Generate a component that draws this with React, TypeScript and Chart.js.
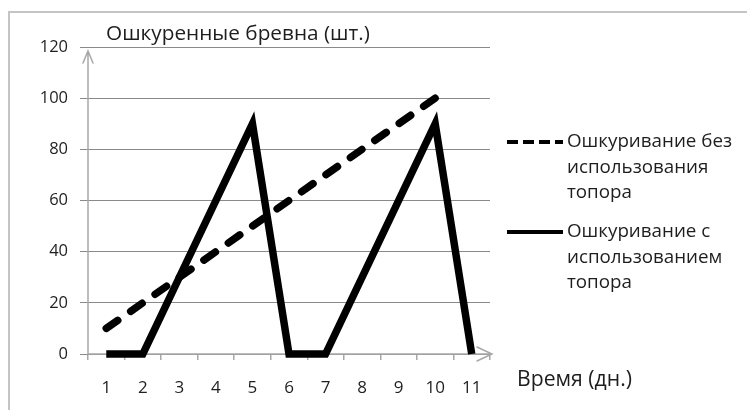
import React, { useEffect, useRef } from 'react';
import { Chart, registerables } from 'chart.js';

Chart.register(...registerables);

const days = ['1', '2', '3', '4', '5', '6', '7', '8', '9', '10', '11'];
const withoutAxe = [10, 20, 30, 40, 50, 60, 70, 80, 90, 100, null];
const withAxe = [0, 0, 30, 60, 90, 0, 0, 30, 60, 90, 0];
const seriesNames = [
  ['Ошкуривание без', 'использования', 'топора'],
  ['Ошкуривание с', 'использованием', 'топора'],
];
const yTitle = 'Ошкуренные бревна (шт.)';
const xTitle = 'Время (дн.)';
const yMin = 0;
const yMax = 120;
const yStep = 20;

const FONT = '"Open Sans", "DejaVu Sans", sans-serif';
const TEXT = '#1e1e1e';

function fitFont(ctx: CanvasRenderingContext2D, text: string, width: number, maxSize: number) {
  ctx.font = `20px ${FONT}`;
  const w = ctx.measureText(text).width;
  const size = Math.min(maxSize, (20 * width) / w);
  return `${size.toFixed(2)}px ${FONT}`;
}

const deco = {
  id: 'deco',
  beforeDraw(chart: any) {
    const ctx = chart.ctx;
    ctx.save();
    ctx.fillStyle = '#ffffff';
    ctx.fillRect(0, 0, chart.width, chart.height);
    ctx.strokeStyle = '#c4c4c4';
    ctx.lineWidth = 2;
    ctx.beginPath();
    ctx.moveTo(9, chart.height);
    ctx.lineTo(9, 12);
    ctx.lineTo(chart.width, 12);
    ctx.stroke();
    ctx.restore();
  },
  beforeDatasetsDraw(chart: any) {
    const { ctx, chartArea } = chart;
    const { left, right, top, bottom } = chartArea;
    ctx.save();
    ctx.strokeStyle = '#a8a8a8';
    ctx.lineWidth = 1.5;
    ctx.lineCap = 'round';
    ctx.beginPath();
    ctx.moveTo(left, bottom);
    ctx.lineTo(left, top + 4);
    ctx.moveTo(left - 5, top + 16);
    ctx.lineTo(left, top + 4);
    ctx.lineTo(left + 5, top + 16);
    ctx.moveTo(left, bottom);
    ctx.lineTo(right + 2, bottom);
    ctx.moveTo(right - 13, bottom - 7);
    ctx.lineTo(right + 2, bottom);
    ctx.lineTo(right - 13, bottom + 7);
    ctx.stroke();
    ctx.restore();
  },
  afterDraw(chart: any) {
    const { ctx, chartArea } = chart;
    const { left, right, top } = chartArea;
    ctx.save();
    ctx.fillStyle = TEXT;
    ctx.textBaseline = 'middle';
    ctx.textAlign = 'left';
    ctx.font = fitFont(ctx, yTitle, 264, 21);
    ctx.fillText(yTitle, left + 18, 34);
    ctx.font = fitFont(ctx, xTitle, 115, 21.5);
    ctx.fillText(xTitle, right + 27, 380);

    const x0 = right + 17;
    const x1 = x0 + 56;
    const starts = [top + 95, top + 185];
    const legendFont = fitFont(ctx, seriesNames[0][0], 165, 21);
    chart.data.datasets.forEach((ds: any, i: number) => {
      const y = starts[i];
      ctx.save();
      ctx.strokeStyle = '#000';
      ctx.lineWidth = 4;
      if (ds.borderDash && ds.borderDash.length) ctx.setLineDash([11, 5]);
      ctx.beginPath();
      ctx.moveTo(x0, y);
      ctx.lineTo(x1, y);
      ctx.stroke();
      ctx.restore();
      ctx.font = legendFont;
      seriesNames[i].forEach((line, j) => {
        ctx.fillText(line, x1 + 4, y + j * 25.5);
      });
    });
    ctx.restore();
  },
};

export default function App() {
  const ref = useRef<HTMLCanvasElement | null>(null);
  useEffect(() => {
    if (!ref.current) return;
    const chart = new Chart(ref.current, {
      type: 'line',
      data: {
        labels: days,
        datasets: [
          {
            label: seriesNames[0].join(' '),
            data: withoutAxe,
            borderColor: '#000',
            borderWidth: 7.5,
            borderDash: [14, 15.8],
            borderCapStyle: 'round',
            pointRadius: 0,
            tension: 0,
            fill: false,
            clip: false,
          },
          {
            label: seriesNames[1].join(' '),
            data: withAxe,
            borderColor: '#000',
            borderWidth: 7.5,
            borderJoinStyle: 'miter',
            borderCapStyle: 'butt',
            pointRadius: 0,
            tension: 0,
            fill: false,
            clip: false,
          },
        ],
      } as any,
      options: {
        animation: false,
        responsive: true,
        maintainAspectRatio: false,
        layout: { padding: { left: 0, top: 47, right: 257, bottom: 0 } },
        plugins: { legend: { display: false }, tooltip: { enabled: false } },
        scales: {
          x: {
            type: 'category',
            offset: true,
            grid: {
              offset: true,
              drawOnChartArea: false,
              drawTicks: true,
              tickLength: 6,
              color: '#a8a8a8',
              lineWidth: 1.5,
            },
            border: { display: false },
            ticks: { color: TEXT, font: { family: FONT, size: 17 }, padding: 18, maxRotation: 0 },
            afterFit: (s: any) => {
              s.height = 56;
            },
          },
          y: {
            min: yMin,
            max: yMax,
            grid: { color: '#8a8a8a', lineWidth: 1, tickLength: 8 },
            border: { display: false },
            ticks: { stepSize: yStep, color: TEXT, font: { family: FONT, size: 16.5 }, padding: 12 },
            afterFit: (s: any) => {
              s.width = 88;
            },
          },
        },
      } as any,
      plugins: [deco],
    });
    return () => chart.destroy();
  }, []);
  return (
    <div style={{ position: 'fixed', left: 0, top: 0, width: 747, height: 410, background: '#fff' }}>
      <canvas ref={ref} />
    </div>
  );
}
